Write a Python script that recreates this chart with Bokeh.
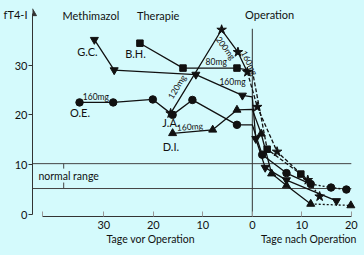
import math
from bokeh.plotting import figure
from bokeh.models import Range1d, FixedTicker, LinearAxis
from bokeh.core.properties import value
from bokeh.embed import file_html
from bokeh.resources import INLINE

# ---------------- data ----------------
# days relative to operation (negative = before), fT4-I values
gc_pre_day = [-31.9, -27.9, -11.4, -2.0]
gc_pre_val = [35.1, 29.0, 28.1, 23.9]
gc_op_val = 23.6
gc_post_day = [0.7, 2.6, 6.9, 17.0]
gc_post_val = [15.2, 9.4, 6.9, 2.7]

bh_pre_day = [-22.7, -14.0, -3.1]
bh_pre_val = [34.4, 29.4, 29.4]
bh_op_val = 28.9
bh_post_day = [3.0, 9.8]
bh_post_val = [13.1, 8.1]

ja_pre_day = [-16.5, -6.2, -2.9, -1.0]
ja_pre_val = [20.3, 37.1, 32.6, 28.6]
ja_post_day = [1.0, 5.0, 11.2, 13.6]
ja_post_val = [21.6, 12.6, 6.9, 3.6]

oe_pre_day = [-34.9, -28.1, -20.1, -16.1, -12.1, -3.1]
oe_pre_val = [22.5, 22.5, 23.1, 20.0, 23.0, 18.0]
oe_op_val = 18.0
oe_post_day = [2.0, 6.9, 11.8, 15.9, 19.0]
oe_post_val = [12.0, 8.3, 6.1, 5.4, 5.0]

di_pre_day = [-16.1, -8.0, -3.1]
di_pre_val = [16.3, 17.0, 21.0]
di_op_val = 21.1
di_post_day = [1.8, 3.9, 6.9, 11.8, 19.9]
di_post_val = [16.2, 8.2, 5.8, 2.1, 1.8]

normal_hi = 10.2
normal_lo = 5.2

y_ticks = [0, 10, 20, 30]
y_title_pos = 40.2
y_title = "fT4-I"
x_ticks = [-42.4, -30, -20, -10, 0, 10, 20]
x_tick_labels = {-42.4: "", -30: "30", -20: "20", -10: "10", 0: "0", 10: "10", 20: "20"}

names = ["G.C.", "B.H.", "O.E.", "J.A.", "D.I."]
name_day = [-33.3, -23.6, -34.8, -16.45, -16.45]
name_val = [32.8, 32.3, 20.5, 18.4, 13.7]

dose_text = ["160mg", "80mg", "160mg", "120mg", "200mg", "160mg", "160mg"]
dose_day = [-31.6, -7.3, -4.0, -15.2, -5.4, -0.6, -12.6]
dose_val = [23.6, 30.7, 26.6, 25.6, 33.4, 30.4, 17.6]
dose_angle_deg = [0, 0, 0, 58.7, -53.5, -63.5, 4]

# ---------------- style ----------------
BG = "#d4fafc"
INK = "#111111"
AX = "#333333"
FONT = "Lato"

p = figure(width=364, height=255, output_backend="svg", toolbar_location=None,
           x_range=Range1d(-44.4, 22.66), y_range=Range1d(-0.42, 42.98),
           min_border_left=32, min_border_right=0, min_border_top=0, min_border_bottom=39,
           x_axis_location=None, y_axis_location=None)
p.background_fill_color = BG
p.border_fill_color = BG
p.outline_line_color = None
p.xgrid.visible = False
p.ygrid.visible = False

# left axis: line + outward ticks (no labels)
yax = LinearAxis(ticker=FixedTicker(ticks=y_ticks), bounds=(0, 40.3))
yax.major_label_overrides = {t: "" for t in y_ticks}
yax.axis_line_color = AX
yax.major_tick_line_color = AX
yax.major_tick_out = 4
yax.major_tick_in = 0
yax.minor_tick_line_color = None
yax.major_label_standoff = 0
p.add_layout(yax, "left")

# left axis: labels only (numbers + title at the top)
ylab = LinearAxis(ticker=FixedTicker(ticks=y_ticks + [y_title_pos]))
ylab.major_label_overrides = {y_title_pos: y_title}
ylab.axis_line_color = None
ylab.major_tick_line_color = None
ylab.minor_tick_line_color = None
ylab.major_tick_out = 0
ylab.major_tick_in = 0
ylab.major_label_standoff = 1
ylab.major_label_text_font = FONT
ylab.major_label_text_font_size = "11px"
ylab.major_label_text_color = INK
p.add_layout(ylab, "left")

# bottom axis (numbers)
xax = LinearAxis(ticker=FixedTicker(ticks=x_ticks), bounds=(-42.4, 20))
xax.major_label_overrides = x_tick_labels
xax.axis_line_color = AX
xax.major_tick_line_color = "#999999"
xax.major_tick_in = 5
xax.major_tick_out = 0
xax.minor_tick_line_color = None
xax.major_label_standoff = 4
xax.major_label_text_font = FONT
xax.major_label_text_font_size = "11px"
xax.major_label_text_color = INK
p.add_layout(xax, "below")

# bottom axis (captions)
cap = LinearAxis(ticker=FixedTicker(ticks=[-20.5, 11.4]))
cap.major_label_overrides = {-20.5: "Tage vor Operation", 11.4: "Tage nach Operation"}
cap.axis_line_color = None
cap.major_tick_line_color = None
cap.minor_tick_line_color = None
cap.major_label_standoff = -5
cap.major_label_text_font = FONT
cap.major_label_text_font_size = "10.5px"
cap.major_label_text_color = INK
p.add_layout(cap, "below")

# axis arrow head (top of the value axis)
p.scatter([-44.4], [40.4], marker="triangle", size=8, color=AX)

# normal range lines + operation line
p.segment(x0=[-44.4, -44.4], y0=[normal_hi, normal_lo], x1=[20, 20], y1=[normal_hi, normal_lo],
          line_color="#444444", line_width=1)
p.segment(x0=[-38.1, -38.1], y0=[normal_hi, normal_lo], x1=[-38.1, -38.1], y1=[9.2, 6.4],
          line_color="#444444", line_width=1)
p.segment(x0=[0], y0=[-0.42], x1=[0], y1=[37.3], line_color=AX, line_width=1)

LW = 1.3
# G.C.
p.line(gc_pre_day + [0] + gc_post_day, gc_pre_val + [gc_op_val] + gc_post_val,
       line_color=INK, line_width=LW)
# B.H.
p.line(bh_pre_day + [0], bh_pre_val + [bh_op_val], line_color=INK, line_width=LW)
p.line([0] + bh_post_day, [bh_op_val] + bh_post_val, line_color=INK, line_width=LW,
       line_dash="4 2")
# J.A.
p.line(ja_pre_day, ja_pre_val, line_color=INK, line_width=LW)
p.line(ja_pre_day[-1:] + ja_post_day[:3], ja_pre_val[-1:] + ja_post_val[:3],
       line_color=INK, line_width=LW, line_dash="4 2")
p.line(ja_post_day[2:], ja_post_val[2:], line_color=INK, line_width=LW, line_dash="2 2")
# O.E.
p.line(oe_pre_day + [0] + oe_post_day[:3], oe_pre_val + [oe_op_val] + oe_post_val[:3],
       line_color=INK, line_width=LW)
p.line(oe_post_day[2:], oe_post_val[2:], line_color=INK, line_width=LW, line_dash="2 2")
# D.I.
p.line(di_pre_day + [0] + di_post_day[:4], di_pre_val + [di_op_val] + di_post_val[:4],
       line_color=INK, line_width=LW)
p.line(di_post_day[3:], di_post_val[3:], line_color=INK, line_width=LW, line_dash="2 2")

# markers
p.scatter(gc_pre_day + gc_post_day, gc_pre_val + gc_post_val, marker="inverted_triangle",
          size=8, color=INK)
p.scatter(bh_pre_day + bh_post_day, bh_pre_val + bh_post_val, marker="square",
          size=6.5, color=INK)
p.scatter(oe_pre_day + oe_post_day, oe_pre_val + oe_post_val, marker="circle",
          size=7.5, color=INK)
p.scatter(ja_pre_day + ja_post_day, ja_pre_val + ja_post_val, marker="star",
          size=10, color=INK)
p.scatter(di_pre_day + di_post_day, di_pre_val + di_post_val, marker="triangle",
          size=8, color=INK)

# texts
p.text(x=[-32.6, -19.0, 3.5], y=[40.0, 40.0, 40.2], text=["Methimazol", "Therapie", "Operation"],
       text_font=value(FONT), text_font_size=value("11px"), text_color=INK,
       text_align="center", text_baseline="middle")
p.text(x=name_day, y=name_val, text=names, text_font=value(FONT),
       text_font_size=value("11px"), text_color=INK, text_align="center",
       text_baseline="middle")
p.text(x=[-43.2], y=[7.7], text=["normal range"], text_font=value(FONT),
       text_font_size=value("10.5px"), text_color=INK, text_align="left",
       text_baseline="middle")
p.text(x=dose_day, y=dose_val, text=dose_text, angle=[math.radians(a) for a in dose_angle_deg],
       text_font=value(FONT), text_font_size=value("8.5px"), text_color=INK,
       text_align="center", text_baseline="middle")

html = file_html(p, INLINE)
html = html.replace("<head>", "<head><style>html,body{background:%s;}</style>" % BG, 1)
open("out.html", "w").write(html)
